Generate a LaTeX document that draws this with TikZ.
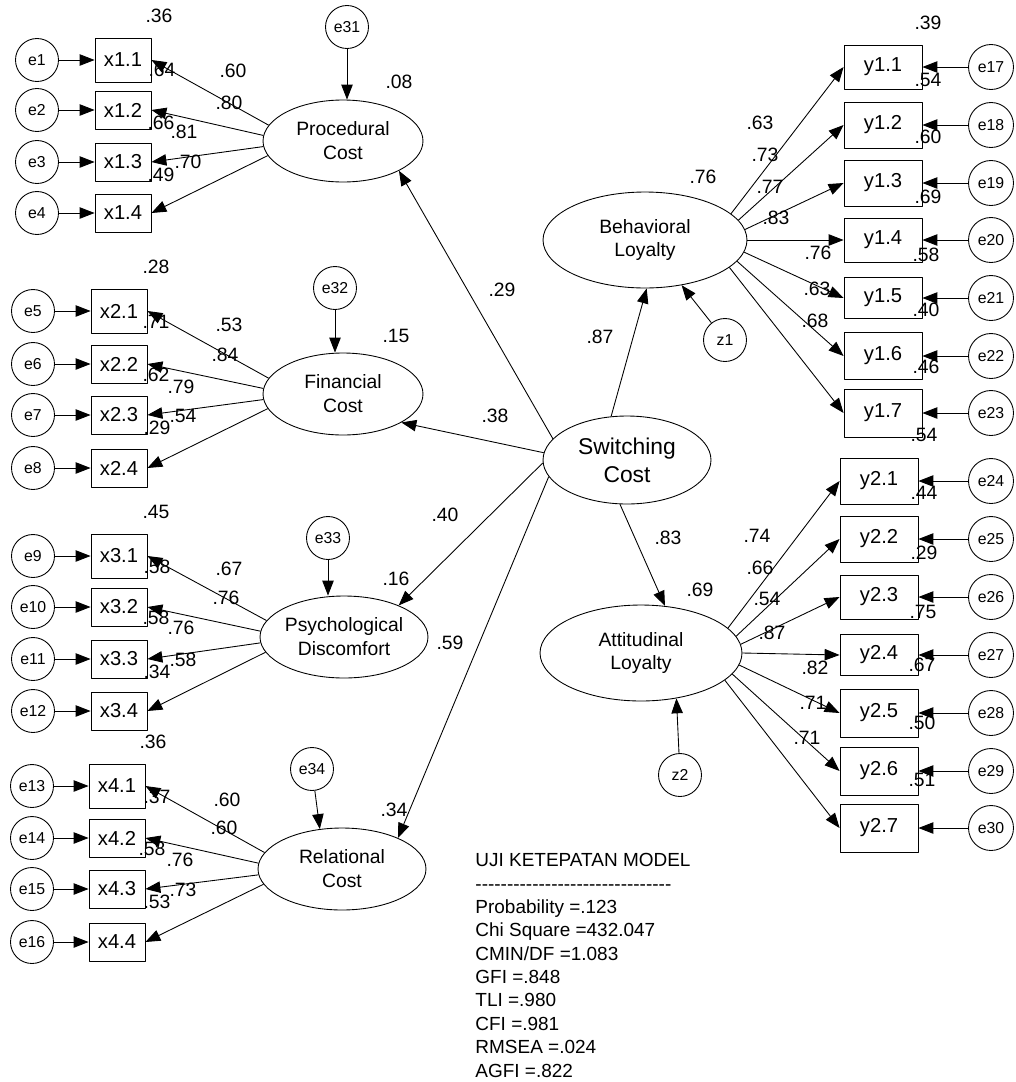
\documentclass[tikz,border=0pt]{standalone}
\usepackage{fontspec}
\setmainfont{Liberation Sans}[Ligatures=TeXOff]
\usetikzlibrary{arrows.meta,shapes.geometric}

\tikzset{
	err/.style={draw, circle, minimum size=0.86cm, inner sep=0pt, font=\fontsize{9}{10}\selectfont},
	obs/.style={draw, rectangle, minimum width=1.12cm, minimum height=0.76cm, inner sep=0pt, font=\fontsize{11.5}{13}\selectfont},
	obsr/.style={obs, minimum width=1.56cm},
	lat/.style={draw, ellipse, minimum width=3.2cm, minimum height=1.64cm, inner sep=0pt, align=center, font=\fontsize{11}{13.6}\selectfont},
	val/.style={inner sep=0pt, font=\fontsize{11}{12}\selectfont}
}

\begin{document}
\begin{tikzpicture}[x=0.02cm, y=-0.02cm, join=round, >={Triangle[length=8.5pt,width=6.5pt]}, line width=0.5pt]
	\useasboundingbox (0,0) rectangle (1015,1082);
	% latent variables
	\node[lat] (proc) at (343,141) {Procedural\\Cost};
	\node[lat] (fin) at (343,394) {Financial\\Cost};
	\node[lat, minimum width=3.36cm] (psy) at (344,637) {Psychological\\Discomfort};
	\node[lat, minimum width=3.36cm] (rel) at (342,869) {Relational\\Cost};
	\node[lat, minimum width=3.36cm, minimum height=1.76cm, font=\fontsize{13}{16}\selectfont] (sw) at (627,460) {Switching\\Cost};
	\node[lat, minimum width=4.08cm, minimum height=1.92cm] (beh) at (645,240) {Behavioral\\Loyalty};
	\node[lat, minimum width=4.04cm, minimum height=1.92cm] (att) at (641,653) {Attitudinal\\Loyalty};
	% left indicators
	\foreach \n/\b/\r/\ex/\bx/\y/\h in {1/1/1/37/123/60/44, 2/1/2/37/123/110/38, 3/1/3/37/123/162/38, 4/1/4/37/123/213/38,
		5/2/1/33/119/311/44, 6/2/2/33/119/364/38, 7/2/3/33/119/415/38, 8/2/4/33/119/468/38,
		9/3/1/33/119/556/44, 10/3/2/33/119/607/38, 11/3/3/33/119/659/38, 12/3/4/33/119/711/38,
		13/4/1/32/117/786/44, 14/4/2/32/117/838/38, 15/4/3/32/117/889/38, 16/4/4/32/117/942/38}
	{
		\node[err] (e\n) at (\ex,\y) {e\n};
		\node[obs, minimum height=\h*0.02cm] (x\b\r) at (\bx,\y) {x\b.\r};
		\draw[->] (e\n) -- (x\b\r);
	}
	% right indicators
	\foreach \n/\b/\r/\y/\h/\bx in {17/1/1/67/44/883, 18/1/2/125/46/883, 19/1/3/183/46/883, 20/1/4/240/44/883,
		21/1/5/298/41/883, 22/1/6/356/47/883, 23/1/7/413/48/883,
		24/2/1/481/46/879, 25/2/2/539/46/879, 26/2/3/597/44/879, 27/2/4/655/41/879,
		28/2/5/713/48/879, 29/2/6/771/48/879, 30/2/7/828/48/879}
	{
		\node[obsr, minimum height=\h*0.02cm] (y\b\r) at (\bx,\y) {y\b.\r};
		\node[err, minimum size=0.9cm] (e\n) at (991,\y) {e\n};
		\draw[->] (e\n) -- (y\b\r);
	}
	% loadings
	\foreach \b/\lv in {1/proc,2/fin,3/psy,4/rel}
	\foreach \r/\a in {1/168,2/176,3/184,4/191}
	\draw[->] (\lv.\a) -- (x\b\r.east);
	\foreach \r/\a in {1/17,2/12,3/6,4/0,5/-7,6/-13,7/-18}
	\draw[->] (beh.\a) -- (y1\r.west);
	\foreach \r/\a in {1/16,2/10,3/5,4/0,5/-7,6/-13,7/-18}
	\draw[->] (att.\a) -- (y2\r.west);
	% residuals of latents
	\node[err] (e31) at (347,27) {e31};
	\node[err] (e32) at (335,288) {e32};
	\node[err] (e33) at (328,538) {e33};
	\node[err] (e34) at (312,769) {e34};
	\node[err] (z1) at (725,340) {z1};
	\node[err] (z2) at (680,775) {z2};
	\draw[->] (e31) -- (e31 |- proc.north);
	\draw[->] (e32) -- (e32 |- fin.north);
	\draw[->] (e33) -- (e33 |- psy.north);
	\draw[->] (e34) -- (rel.119);
	\draw[->] (z1) -- (beh.-51);
	\draw[->] (z2) -- (att.-52);
	% structural paths
	\draw[->] (sw.164) -- (proc.-28);
	\draw[->] (sw.175) -- (fin.-26);
	\draw[->] (sw.182) -- (psy.30);
	\draw[->] (sw.192) -- (rel.29);
	\draw[->] (sw.110) -- (beh.-88);
	\draw[->] (sw.-99) -- (att.63);
	% estimates
	\foreach \x/\y/\t [count=\i] in {159/16/.36, 162/70/.64, 233/71/.60, 229/103/.80, 161/123/.66, 184/132/.81, 188/162/.70, 161/175/.49, 399/82/.08,
		156/267/.28, 156/322/.71, 229/325/.53, 225/355/.84, 156/375/.62, 181/387/.79, 183/416/.54, 157/428/.29, 396/336/.15,
		156/512/.45, 157/567/.58, 229/569/.67, 226/598/.76, 156/618/.58, 181/628/.76, 183/660/.58, 157/672/.34, 396/579/.16,
		153/742/.36, 157/797/.37, 227/800/.60, 224/828/.60, 152/849/.58, 180/860/.76, 183/890/.73, 157/902/.53, 394/810/.34,
		502/290/.29, 600/337/.87, 495/416/.38, 445/515/.40, 450/643/.59, 668/538/.83, 703/177/.76, 700/590/.69,
		928/23/.39, 928/80/.54, 760/123/.63, 765/155/.73, 770/187/.77, 776/218/.83, 928/137/.60, 928/197/.69,
		818/253/.76, 926/255/.58, 817/289/.63, 926/310/.40, 815/321/.68, 926/367/.46, 924/435/.54,
		924/493/.44, 757/536/.74, 760/568/.66, 767/599/.54, 772/633/.87, 815/668/.82, 813/703/.71, 807/738/.71,
		924/553/.29, 923/612/.75, 922/665/.67, 922/723/.50, 922/780/.51}
	\node[val] (lab\i) at (\x,\y) {\t};
	% goodness of fit
	\node[anchor=north west, align=left, inner sep=0pt, font=\fontsize{10.8}{13.3}\selectfont] (fit) at (475,853)
	{UJI KETEPATAN MODEL\\-------------------------------\\Probability =.123\\Chi Square =432.047\\CMIN/DF =1.083\\GFI =.848\\TLI =.980\\CFI =.981\\RMSEA =.024\\AGFI =.822};
\end{tikzpicture}
\end{document}
